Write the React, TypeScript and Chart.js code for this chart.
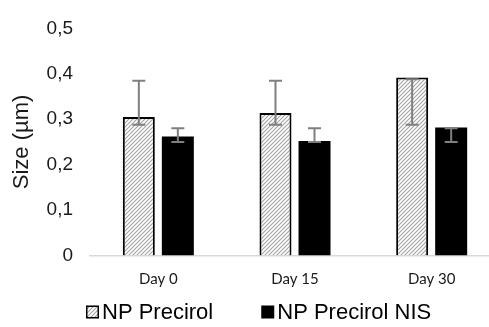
import React, { useEffect, useRef } from "react";
import { Chart, registerables } from "chart.js";

Chart.register(...registerables);

const categories = ["Day 0", "Day 15", "Day 30"];
const seriesNames = ["NP Precirol", "NP Precirol NIS"];
const precirol = [0.305, 0.314, 0.392];
const precirolErrHigh = [0.385, 0.385, 0.388];
const precirolErrLow = [0.288, 0.288, 0.288];
const nis = [0.262, 0.252, 0.282];
const nisErrHigh = [0.28, 0.28, 0.28];
const nisErrLow = [0.25, 0.25, 0.25];
const yMin = 0;
const yMax = 0.5;
const yStep = 0.1;

function makeHatch(): CanvasPattern | string {
  const c = document.createElement("canvas");
  c.width = 4;
  c.height = 4;
  const g = c.getContext("2d");
  if (!g) return "#ccc";
  g.fillStyle = "#ffffff";
  g.fillRect(0, 0, 4, 4);
  g.strokeStyle = "#a6a6a6";
  g.lineWidth = 1.2;
  g.beginPath();
  g.moveTo(-1, 5);
  g.lineTo(5, -1);
  g.moveTo(-1, 1);
  g.lineTo(1, -1);
  g.moveTo(3, 5);
  g.lineTo(5, 3);
  g.stroke();
  const p = g.createPattern(c, "repeat");
  return p || "#ccc";
}

export default function App() {
  const ref = useRef<HTMLCanvasElement | null>(null);

  useEffect(() => {
    if (!ref.current) return;
    const hatch = makeHatch();
    const errs = [
      [precirolErrLow, precirolErrHigh],
      [nisErrLow, nisErrHigh],
    ];

    const errorBarPlugin = {
      id: "errorBars",
      afterDatasetsDraw(chart: any) {
        const ctx = chart.ctx;
        const y = chart.scales.y;
        chart.data.datasets.forEach((_ds: any, i: number) => {
          const meta = chart.getDatasetMeta(i);
          meta.data.forEach((bar: any, j: number) => {
            const x = bar.x;
            const yTop = y.getPixelForValue(errs[i][1][j]);
            const yBot = y.getPixelForValue(errs[i][0][j]);
            ctx.save();
            ctx.strokeStyle = "#7f7f7f";
            ctx.lineWidth = 2;
            ctx.beginPath();
            ctx.moveTo(x, yTop);
            ctx.lineTo(x, yBot);
            ctx.moveTo(x - 6.5, yTop);
            ctx.lineTo(x + 6.5, yTop);
            ctx.moveTo(x - 6.5, yBot);
            ctx.lineTo(x + 6.5, yBot);
            ctx.stroke();
            ctx.restore();
          });
        });
      },
    };

    const legendPlugin = {
      id: "customLegend",
      afterDraw(chart: any) {
        const ctx = chart.ctx;
        ctx.save();
        ctx.font = "22px 'Liberation Sans', Arial, sans-serif";
        ctx.textBaseline = "middle";
        ctx.textAlign = "left";
        const cy = 312;
        const box = 13;
        let x = 86;
        const fills = [hatch, "#000000"];
        seriesNames.forEach((name, i) => {
          ctx.fillStyle = fills[i] as any;
          ctx.fillRect(x, cy - box / 2, box, box);
          if (i === 0) {
            ctx.strokeStyle = "#000";
            ctx.lineWidth = 1.5;
            ctx.strokeRect(x + 0.75, cy - box / 2 + 0.75, box - 1.5, box - 1.5);
          }
          x += box + 3;
          ctx.fillStyle = "#000000";
          ctx.fillText(name, x, cy + 1);
          x += ctx.measureText(name).width + 48;
        });
        ctx.restore();
      },
    };

    const chart = new Chart(ref.current, {
      type: "bar",
      data: {
        labels: categories,
        datasets: [
          {
            label: seriesNames[0],
            data: precirol,
            backgroundColor: hatch as any,
            borderColor: "#000000",
            borderWidth: 2,
            categoryPercentage: 0.571,
            barPercentage: 0.82,
          },
          {
            label: seriesNames[1],
            data: nis,
            backgroundColor: "#000000",
            borderColor: "#000000",
            borderWidth: 0,
            categoryPercentage: 0.571,
            barPercentage: 0.82,
          },
        ],
      },
      options: {
        responsive: false,
        animation: false,
        layout: { padding: { top: 24, bottom: 36.5, left: 0, right: 10 } },
        plugins: {
          legend: { display: false },
          tooltip: { enabled: false },
        },
        scales: {
          x: {
            grid: { display: false, drawTicks: false },
            border: { display: true, color: "#d9d9d9", width: 1.5 },
            ticks: {
              padding: 15,
              color: "#1a1a1a",
              font: { family: "Lato, 'Open Sans', sans-serif", size: 15 },
              maxRotation: 0,
            },
            afterFit(scale: any) {
              scale.height = 35;
            },
          },
          y: {
            min: yMin,
            max: yMax,
            grid: { display: false, drawTicks: false },
            border: { display: false },
            ticks: {
              stepSize: yStep,
              padding: 17,
              color: "#1a1a1a",
              font: { family: "'Liberation Sans', Arial, sans-serif", size: 19 },
              callback: (v: any) => {
                const n = Number(v);
                if (Math.abs(n) < 1e-9) return "0";
                return n.toFixed(1).replace(".", ",");
              },
            },
            title: {
              display: true,
              text: "Size (µm)",
              color: "#1a1a1a",
              font: { family: "'Liberation Sans', Arial, sans-serif", size: 22 },
              padding: { top: 9, bottom: 0 },
            },
            afterFit(scale: any) {
              scale.width = 90;
            },
          },
        },
      },
      plugins: [errorBarPlugin, legendPlugin],
    });

    return () => chart.destroy();
  }, []);

  return (
    <div
      style={{
        position: "fixed",
        left: 0,
        top: 0,
        width: 489,
        height: 327,
        overflow: "hidden",
        background: "#ffffff",
      }}
    >
      <canvas ref={ref} width={510} height={327} style={{ display: "block" }} />
    </div>
  );
}
